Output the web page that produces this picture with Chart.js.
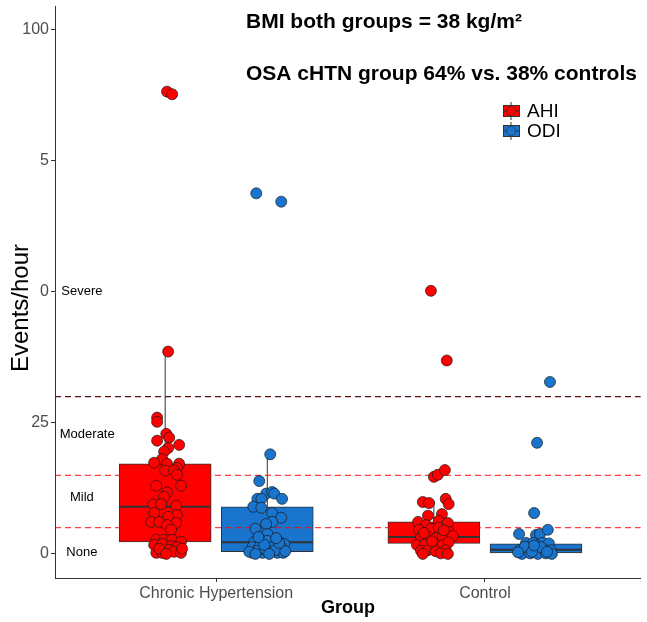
<!DOCTYPE html>
<html>
<head>
<meta charset="utf-8">
<script src="https://cdn.jsdelivr.net/npm/chart.js@4.4.1/dist/chart.umd.min.js"></script>
<style>
  body { margin: 0; background: #fff; }
  #wrap { width: 647px; height: 622px; }
</style>
</head>
<body>
<div id="wrap"><canvas id="grafico"></canvas></div>
<script>
// categorias y ejes
const groups = ['Chronic Hypertension', 'Control'];
const yTickValues = [0, 25, 50, 75, 100];
const yTickLabels = ['0', '25', '0', '5', '100'];
const cutoffs = [5, 15, 30];
const severityLabels = ['None', 'Mild', 'Moderate', 'Severe'];
const severityLevels = [0.2, 10.7, 22.7, 50];

// cajas: [bigote inf, q1, mediana, q3, bigote sup] por grupo
const ahiBox = [[0, 2.3, 9.0, 17.2, 38.6], [0, 2.0, 3.2, 6.1, 10.1]];
const odiBox = [[0, 0.4, 2.2, 9.0, 19.0], [0, 0.2, 0.8, 1.9, 4.0]];

// puntos individuales (valor y desplazamiento del jitter)
const ahiChronic = [88.2, 87.7, 38.6, 26.0, 25.2, 22.9, 22.2, 21.6, 20.8, 20.2, 19.5, 18.1, 17.4, 17.2, 17.2, 16.4, 15.9, 15.9, 15.1, 13.0, 13.0, 11.7, 10.9, 9.4, 9.5, 9.2, 7.8, 7.4, 7.1, 6.1, 6.1, 5.9, 5.5, 4.6, 2.7, 2.7, 2.7, 2.3, 1.7, 1.9, 1.5, 1.3, 0.2, 0.2, 0.8, 0.4, 0.2, 1.0, 1.0, 0.0];
const ahiChronicJit = [0.007, 0.026, 0.011, -0.030, -0.030, 0.004, 0.015, -0.030, 0.052, 0.011, -0.004, -0.011, -0.041, 0.007, 0.052, 0.044, 0.000, 0.033, 0.044, -0.033, 0.059, 0.007, -0.004, -0.044, -0.015, 0.041, -0.041, 0.044, 0.011, -0.052, -0.022, 0.041, 0.007, 0.022, -0.033, -0.004, 0.026, 0.059, -0.041, -0.011, 0.022, 0.044, -0.033, -0.011, 0.015, 0.033, 0.059, 0.063, -0.022, 0.004];
const odiChronic = [68.8, 67.2, 19.0, 13.9, 11.5, 11.8, 11.5, 10.5, 10.5, 10.5, 9.0, 8.8, 7.8, 6.9, 6.1, 5.7, 4.8, 3.8, 2.3, 2.5, 2.5, 2.7, 1.9, 1.3, 1.3, 1.3, 1.3, 0.2, 0.2, 0.2, 0.2, 0.2, 0.6, 0.9, 0.7, 0.5, 0.4, 1.7, 2.1, 3.2, 3.0, 0.0, 0.0];
const odiChronicJit = [-0.041, 0.052, 0.011, -0.030, -0.004, 0.018, 0.026, -0.037, -0.022, 0.055, -0.052, -0.022, 0.018, 0.052, 0.018, -0.004, -0.044, 0.000, -0.048, -0.022, 0.000, 0.037, 0.063, -0.055, -0.030, 0.018, 0.052, -0.055, -0.018, 0.007, 0.037, 0.059, -0.037, -0.007, 0.030, 0.067, -0.067, -0.011, 0.044, -0.033, 0.033, 0.007, -0.044];
const ahiControl = [50.2, 36.9, 14.7, 15.1, 16.0, 9.9, 9.7, 10.5, 9.5, 7.3, 7.6, 6.1, 5.5, 6.3, 5.9, 4.6, 4.8, 5.0, 4.2, 3.2, 3.3, 3.0, 3.2, 3.4, 1.7, 1.8, 1.6, 1.7, 2.2, 0.6, 0.7, 0.5, 0.7, 0.0, 0.1, 0.0, 2.4, 4.0, 4.5];
const ahiControlJit = [-0.011, 0.048, 0.000, 0.015, 0.041, -0.041, -0.018, 0.044, 0.055, -0.022, 0.030, -0.059, -0.030, 0.018, 0.052, -0.055, -0.011, 0.018, 0.055, -0.048, -0.022, 0.007, 0.033, 0.070, -0.063, -0.033, 0.000, 0.033, 0.055, -0.048, -0.022, 0.007, 0.044, -0.041, 0.026, 0.052, -0.007, -0.037, 0.037];
const odiControl = [32.8, 21.2, 7.8, 3.8, 3.6, 3.8, 4.6, 2.1, 2.1, 2.1, 2.0, 0.8, 0.8, 0.9, 0.8, 0.7, 0.0, 0.1, 0.0, 0.1, 0.0, 1.4, 1.3, 0.4, 0.4, 1.6, 0.3];
const odiControlJit = [0.052, 0.004, -0.007, -0.063, 0.000, 0.015, 0.044, -0.037, -0.011, 0.026, 0.048, -0.059, -0.030, 0.000, 0.030, 0.055, -0.052, -0.022, 0.007, 0.037, 0.059, -0.041, 0.018, -0.015, 0.041, -0.007, -0.067];

const ROJO = '#ff0000';
const AZUL = '#1874cd';
const DODGE = 0.19;   // separacion AHI / ODI dentro del grupo
const HALF = 0.17;    // media anchura de la caja
const XMIN = 0.4, XMAX = 2.58;
const FUENTE = '"Liberation Sans", Arial, sans-serif';

function puntos(vals, jit, centro) {
  return vals.map((v, i) => ({ x: centro + jit[i], y: v }));
}

const datasets = [];

// puntos (encima de todo)
[[ahiChronic, ahiChronicJit, 1 - DODGE, ROJO],
 [odiChronic, odiChronicJit, 1 + DODGE, AZUL],
 [ahiControl, ahiControlJit, 2 - DODGE, ROJO],
 [odiControl, odiControlJit, 2 + DODGE, AZUL]].forEach(([v, j, c, col]) => {
  datasets.push({
    type: 'scatter', order: 0, data: puntos(v, j, c),
    backgroundColor: col, borderColor: '#1a1a1a', borderWidth: 0.7,
    pointRadius: 5.5, pointHoverRadius: 5.5
  });
});

// lineas de corte
cutoffs.forEach((c, i) => {
  datasets.push({
    type: 'line', order: 1,
    data: [{ x: XMIN, y: c }, { x: XMAX, y: c }],
    borderColor: i < 2 ? 'rgba(255,0,0,0.75)' : '#5a1010',
    borderWidth: 1.2, borderDash: [6, 4], pointRadius: 0, fill: false
  });
});

// cajas, medianas y bigotes
[[ahiBox, -DODGE, ROJO], [odiBox, DODGE, AZUL]].forEach(([box, off, col]) => {
  datasets.push({
    type: 'bar', order: 3, grouped: false,
    data: box.map((b, g) => ({ x: g + 1 + off, y: [b[1], b[3]] })),
    backgroundColor: col, borderColor: '#333333', borderWidth: 1,
    borderSkipped: false, barThickness: 92
  });
  box.forEach((b, g) => {
    const cx = g + 1 + off;
    datasets.push({
      type: 'line', order: 2,
      data: [{ x: cx - HALF, y: b[2] }, { x: cx + HALF, y: b[2] }],
      borderColor: '#333333', borderWidth: 2, pointRadius: 0
    });
    datasets.push({
      type: 'line', order: 4,
      data: [{ x: cx, y: b[3] }, { x: cx, y: b[4] }],
      borderColor: '#333333', borderWidth: 1, pointRadius: 0
    });
    datasets.push({
      type: 'line', order: 4,
      data: [{ x: cx, y: b[0] }, { x: cx, y: b[1] }],
      borderColor: '#333333', borderWidth: 1, pointRadius: 0
    });
  });
});

// textos dentro del grafico, titulo del eje y y leyenda
const textos = {
  id: 'textos',
  afterDraw(chart) {
    const ctx = chart.ctx;
    const x = chart.scales.x, y = chart.scales.y;
    ctx.save();
    ctx.fillStyle = '#000';
    ctx.textBaseline = 'middle';
    ctx.textAlign = 'center';
    ctx.font = '13px ' + FUENTE;
    severityLabels.forEach((t, i) => {
      const px = x.getPixelForValue(i === 2 ? 0.52 : 0.5);
      ctx.fillText(t, px, y.getPixelForValue(severityLevels[i]));
    });

    // titulo del eje y
    ctx.save();
    ctx.translate(21, 308);
    ctx.rotate(-Math.PI / 2);
    ctx.font = '24px ' + FUENTE;
    ctx.fillText('Events/hour', 0, 0);
    ctx.restore();

    ctx.textAlign = 'left';
    ctx.textBaseline = 'alphabetic';
    ctx.font = 'bold 21px ' + FUENTE;
    ctx.fillText('BMI both groups = 38 kg/m²', 246, 28);
    ctx.fillText('OSA cHTN group 64% vs. 38% controls', 246, 80);

    // leyenda
    [['AHI', ROJO, 111], ['ODI', AZUL, 131]].forEach(([t, col, cy]) => {
      ctx.strokeStyle = '#333';
      ctx.lineWidth = 1;
      ctx.beginPath();
      ctx.moveTo(511, cy - 9); ctx.lineTo(511, cy + 9);
      ctx.stroke();
      ctx.fillStyle = col;
      ctx.fillRect(503, cy - 6, 16, 12);
      ctx.strokeRect(503.5, cy - 5.5, 16, 11);
      ctx.beginPath();
      ctx.moveTo(503, cy); ctx.lineTo(519, cy);
      ctx.stroke();
      ctx.beginPath();
      ctx.arc(511, cy, 4.5, 0, Math.PI * 2);
      ctx.fill();
      ctx.lineWidth = 0.7;
      ctx.stroke();
      ctx.fillStyle = '#000';
      ctx.font = '19px ' + FUENTE;
      ctx.textBaseline = 'middle';
      ctx.fillText(t, 527, cy + 1);
    });
    ctx.restore();
  }
};

new Chart(document.querySelector('#grafico'), {
  type: 'scatter',
  data: { datasets },
  options: {
    responsive: true,
    maintainAspectRatio: false,
    animation: false,
    events: [],
    layout: { padding: { top: 5, right: 0, left: 0, bottom: 0 } },
    plugins: { legend: { display: false }, tooltip: { enabled: false } },
    scales: {
      x: {
        type: 'linear', min: XMIN, max: XMAX, offset: false,
        afterBuildTicks: s => { s.ticks = groups.map((g, i) => ({ value: i + 1 })); },
        afterFit: s => { s.height = 44; s.paddingLeft = 0; s.paddingRight = 0; },
        ticks: {
          callback: v => groups[v - 1],
          color: '#4d4d4d', padding: 2,
          font: { family: FUENTE, size: 16 }
        },
        grid: { display: true, offset: false, drawOnChartArea: false, tickLength: 4, color: '#333' },
        border: { display: true, color: '#333', width: 1 },
        title: {
          display: true, text: 'Group', color: '#000',
          padding: { top: 0, bottom: 3 },
          font: { family: FUENTE, size: 18, weight: 'bold' }
        }
      },
      y: {
        type: 'linear', min: -4.6, max: 104.5,
        afterBuildTicks: s => { s.ticks = yTickValues.map(v => ({ value: v })); },
        afterFit: s => { s.width = 55; s.paddingTop = 0; s.paddingBottom = 0; },
        ticks: {
          callback: v => yTickLabels[yTickValues.indexOf(v)],
          color: '#4d4d4d', padding: 2,
          font: { family: FUENTE, size: 16 }
        },
        grid: { display: true, offset: false, drawOnChartArea: false, tickLength: 4, color: '#333' },
        border: { display: true, color: '#333', width: 1 },
        title: { display: false }
      }
    }
  },
  plugins: [textos]
});
</script>
</body>
</html>
